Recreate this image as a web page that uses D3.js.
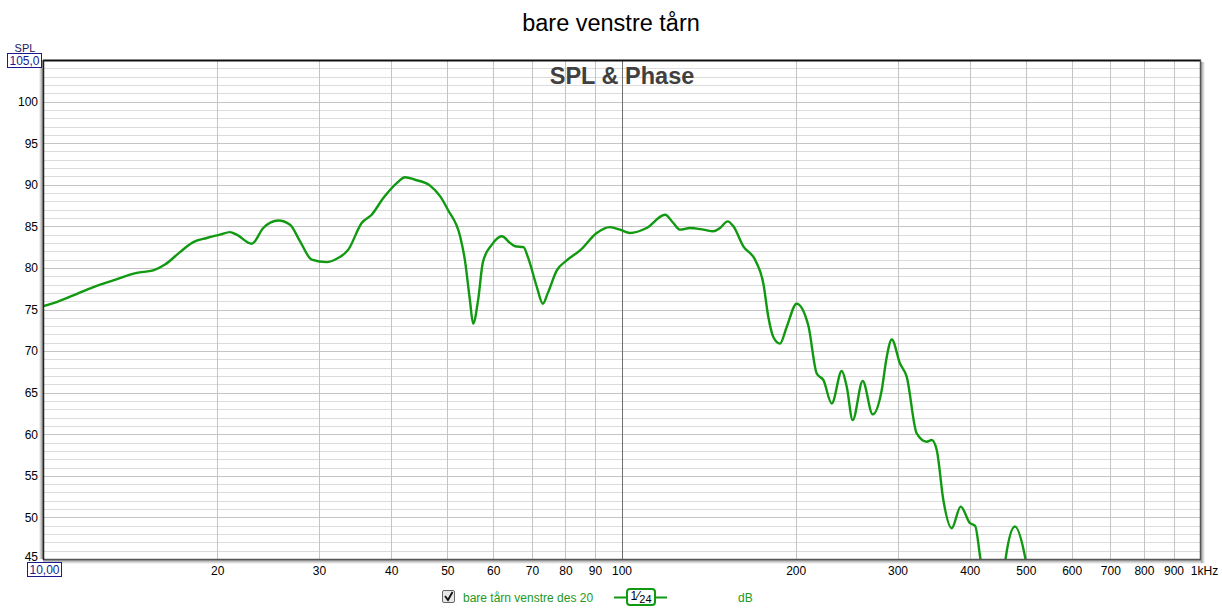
<!DOCTYPE html>
<html><head><meta charset="utf-8">
<script src="https://cdn.jsdelivr.net/npm/d3@7"></script>
<style>body{margin:0;background:#fff;font-family:"Liberation Sans",Arial,sans-serif}</style>
</head><body>
<svg id="chart" width="1222" height="611"></svg>
<script>
const freqs = [10,10.56,11.28,12.22,13.23,14.52,15.51,16.25,17.25,18.19,19.19,20.23,21.05,21.62,22.95,24.03,25.51,26.73,27.82,29.14,30.93,32.19,33.71,35.55,37.0,38.75,40.88,42.26,43.97,46.67,48.6,50.1,52.6,53.6,54.7,55.4,56.5,57.6,59.7,62.1,64.2,65.5,67.7,68.9,71.4,73.1,74.6,77.3,80.4,84.8,90.6,95.5,99.4,103.4,110.5,118.9,122.9,126.2,131.4,138.5,144.1,148.0,152.6,156.1,162.4,170.1,175.9,179.4,183.0,187.9,193.0,200.8,210.3,217.5,223.4,230.9,240.3,245.1,251.0,261.2,271.8,281.7,287.4,293.2,303.0,311.2,323.8,337.0,343.8,350.7,360.0,372.2,385.8,400.4,408.5,416.7,425,440,455,461.9,478.8,498.3,510,530];
const spl = [75.4,75.9,76.7,77.7,78.5,79.4,79.7,80.4,81.9,83.1,83.6,84.0,84.3,84.0,82.9,84.8,85.7,85.2,83.2,81.0,80.7,81.1,82.2,85.4,86.4,88.4,90.2,90.9,90.6,89.9,88.6,87.0,83.8,81.0,76.1,73.3,76.1,80.7,82.8,83.8,83.0,82.6,82.5,81.3,77.7,75.7,77.0,79.7,80.9,82.1,84.2,84.9,84.6,84.2,84.8,86.4,85.4,84.6,84.8,84.6,84.4,84.8,85.6,85.0,82.6,81.0,78.1,74.1,71.7,70.9,72.9,75.7,73.1,67.3,66.5,63.7,67.6,65.7,61.7,66.4,62.4,65.3,69.3,71.4,68.5,66.9,60.1,59.1,59.3,58.1,52.1,48.7,51.3,49.3,49.0,45.3,41,38,41.5,45.3,48.9,45.3,41,38];
const xTickVals = [20,30,40,50,60,70,80,90,100,200,300,400,500,600,700,800,900,1000];
const xTickLabels = ["20","30","40","50","60","70","80","90","100","200","300","400","500","600","700","800","900","1kHz"];
const yTickVals = [100,95,90,85,80,75,70,65,60,55,50,45];
const titleText = "bare venstre tårn";
const subTitle = "SPL & Phase";
const legendName = "bare tårn venstre des 20";

const svg = d3.select("#chart");
const L = 43, R = 1200, T = 60, B = 559;
const x = d3.scaleLog().domain([10,1000]).range([L,R]);
const y = d3.scaleLinear().domain([45,105]).range([B,T]);

// title
svg.append("text").attr("x",611).attr("y",31).attr("text-anchor","middle")
  .attr("font-size",23.5).attr("fill","#000").text(titleText);

// shadows
const defs = svg.append("defs");
const g1 = defs.append("linearGradient").attr("id","ls").attr("x1","0").attr("x2","1");
g1.append("stop").attr("offset","0").attr("stop-color","#fff");
g1.append("stop").attr("offset","1").attr("stop-color","#888");
svg.append("rect").attr("x",L-4).attr("y",T).attr("width",4).attr("height",B-T).attr("fill","url(#ls)");
const g2 = defs.append("linearGradient").attr("id","bs").attr("x1","0").attr("x2","0").attr("y1","0").attr("y2","1");
g2.append("stop").attr("offset","0").attr("stop-color","#999");
g2.append("stop").attr("offset","1").attr("stop-color","#fff");
svg.append("rect").attr("x",L).attr("y",B+1).attr("width",R-L+4).attr("height",4).attr("fill","url(#bs)");
const g3 = defs.append("linearGradient").attr("id","rs").attr("x1","0").attr("x2","1");
g3.append("stop").attr("offset","0").attr("stop-color","#999");
g3.append("stop").attr("offset","1").attr("stop-color","#fff");
svg.append("rect").attr("x",R+1).attr("y",T+2).attr("width",4).attr("height",B-T+2).attr("fill","url(#rs)");

// horizontal grid every 1 dB
const hg = svg.append("g");
d3.range(46,105).forEach(v=>{
  hg.append("line").attr("x1",L).attr("x2",R).attr("y1",Math.round(y(v))+0.5).attr("y2",Math.round(y(v))+0.5)
    .attr("stroke", v%5===0 ? "#c4c4c4" : "#dcdcdc").attr("stroke-width",1);
});
// vertical grid
xTickVals.forEach(v=>{
  if (v===1000) return;
  svg.append("line").attr("x1",Math.round(x(v))+0.5).attr("x2",Math.round(x(v))+0.5).attr("y1",T).attr("y2",B)
    .attr("stroke", v===100 ? "#707070" : "#c4c4c4").attr("stroke-width",1);
});

// subtitle
svg.append("text").attr("x",622).attr("y",84).attr("text-anchor","middle")
  .attr("font-size",23.5).attr("font-weight","bold").attr("fill","#404040").text(subTitle);

// curve
svg.append("clipPath").attr("id","clip").append("rect").attr("x",L).attr("y",T).attr("width",R-L).attr("height",B-T);
const line = d3.line().x((d,i)=>x(freqs[i])).y(d=>y(d)).curve(d3.curveMonotoneX);
svg.append("path").attr("d",line(spl)).attr("clip-path","url(#clip)")
  .attr("fill","none").attr("stroke","#119911").attr("stroke-width",2.4).attr("stroke-linejoin","round");

// frame
svg.append("line").attr("x1",L).attr("x2",R+1).attr("y1",T+0.5).attr("y2",T+0.5).attr("stroke","#111").attr("stroke-width",2);
svg.append("line").attr("x1",R+0.5).attr("x2",R+0.5).attr("y1",T).attr("y2",B+1).attr("stroke","#555").attr("stroke-width",1.5);
svg.append("line").attr("x1",L).attr("x2",R+1).attr("y1",B+0.5).attr("y2",B+0.5).attr("stroke","#555").attr("stroke-width",1.5);
svg.append("line").attr("x1",L+0.5).attr("x2",L+0.5).attr("y1",T).attr("y2",B+1).attr("stroke","#222").attr("stroke-width",1.5);

// y axis labels
const ya = svg.append("g").attr("transform",`translate(${L-5},0)`)
  .call(d3.axisLeft(y).tickValues(yTickVals).tickSize(0).tickPadding(0).tickFormat(d3.format("d")));
ya.select(".domain").remove();
ya.selectAll("text").attr("font-size",12).attr("fill","#000").attr("font-family","Liberation Sans, Arial, sans-serif");
ya.selectAll(".tick").filter(d=>d===45).select("text").attr("dy","0.15em");

// x axis labels
const xa = svg.append("g").attr("transform",`translate(0,${B+7})`)
  .call(d3.axisBottom(x).tickValues(xTickVals).tickSize(0).tickPadding(0).tickFormat((d,i)=>xTickLabels[i]));
xa.select(".domain").remove();
xa.selectAll("text").attr("font-size",12).attr("fill","#000").attr("font-family","Liberation Sans, Arial, sans-serif");
xa.selectAll(".tick").filter(d=>d===1000).select("text").attr("dx","4");

// boxed labels
function boxed(xx,yy,w,h,txt){
  svg.append("rect").attr("x",xx+0.5).attr("y",yy+0.5).attr("width",w).attr("height",h).attr("fill","#fff").attr("stroke","#1a1a8c").attr("stroke-width",1);
  svg.append("text").attr("x",xx+w/2+0.5).attr("y",yy+h-2.5).attr("text-anchor","middle").attr("font-size",12).attr("fill","#1a1a8c").text(txt);
}
boxed(7,53,34,14,"105,0");
boxed(27,562,34,14,"10,00");
svg.append("text").attr("x",25).attr("y",52).attr("text-anchor","middle").attr("font-size",11).attr("fill","#1a1a5c").text("SPL");

// legend
const lg = svg.append("g");
lg.append("rect").attr("x",442.5).attr("y",590.5).attr("width",12).attr("height",12).attr("fill","#e8e8e8").attr("stroke","#666").attr("rx",1.5);
lg.append("path").attr("d","M445,596 L448,600 L452.5,592").attr("fill","none").attr("stroke","#111").attr("stroke-width",1.8);
lg.append("text").attr("x",463).attr("y",601.5).attr("font-size",12).attr("fill","#229922").text(legendName);
lg.append("line").attr("x1",614).attr("x2",667).attr("y1",597.5).attr("y2",597.5).attr("stroke","#119911").attr("stroke-width",2);
lg.append("rect").attr("x",627).attr("y",589).attr("width",28).attr("height",16).attr("rx",3).attr("fill","#fff").attr("stroke","#119911").attr("stroke-width",2);
const ft = lg.append("text").attr("x",641).attr("y",602).attr("text-anchor","middle").attr("fill","#000");
ft.append("tspan").attr("font-size",12).attr("dy","-2").text("1");
ft.append("tspan").attr("font-size",13).attr("dy","0").text("⁄");
ft.append("tspan").attr("font-size",11).attr("dy","3").text("24");
lg.append("text").attr("x",738).attr("y",601.5).attr("font-size",12).attr("fill","#229922").text("dB");
</script>
</body></html>
